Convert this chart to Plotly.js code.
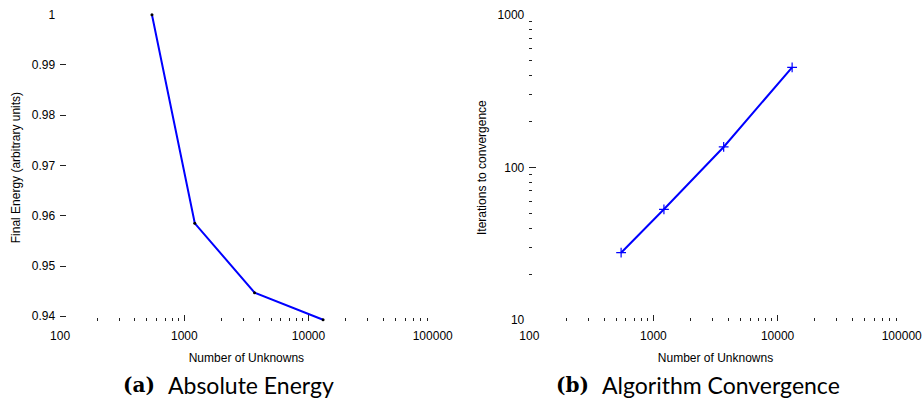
<!DOCTYPE html>
<html>
<head>
<meta charset="utf-8">
<script src="https://cdn.plot.ly/plotly-3.0.1.min.js"></script>
<style>html,body{margin:0;padding:0;background:#fff;}#chart{width:924px;height:405px;}</style>
</head>
<body>
<div id="chart"></div>
<script>
// ---- data ----
const unknowns = [549, 1215, 3680, 13100];
const finalEnergy = [1.0, 0.9585, 0.9447, 0.9393];
const iterations = [27.6, 53.1, 136, 452];

const xTickVals = [100, 1000, 10000, 100000];
const xTickText = ['100', '1000', '10000', '100000'];
const xMinorVals = [200,300,400,500,600,700,800,900,2000,3000,4000,5000,6000,7000,8000,9000,20000,30000,40000,50000,60000,70000,80000,90000];
const energyTickVals = [0.94, 0.95, 0.96, 0.97, 0.98, 0.99, 1.0];
const energyTickText = ['0.94', '0.95', '0.96', '0.97', '0.98', '0.99', '1'];
const iterTickVals = [10, 100, 1000];
const iterTickText = ['10', '100', '1000'];
const iterMinorVals = [20,30,40,50,60,70,80,90,200,300,400,500,600,700,800,900];

const xTitle = 'Number of Unknowns';
const yTitleA = 'Final Energy (arbitrary units)';
const yTitleB = 'Iterations to convergence';
const capLabelA = '(a)', capTextA = 'Absolute Energy';
const capLabelB = '(b)', capTextB = 'Algorithm Convergence';

// ---- styling ----
const tickFont = {family: 'Liberation Sans, Arial, sans-serif', size: 12, color: '#000'};
const titleFont = {family: 'Liberation Sans, Arial, sans-serif', size: 12, color: '#000'};
const tickColor = '#222';
const blue = '#0000ff';

const traces = [
  {x: unknowns, y: finalEnergy, xaxis: 'x', yaxis: 'y', type: 'scatter', mode: 'lines+markers',
   line: {color: blue, width: 2}, marker: {color: '#000', size: 3, symbol: 'circle'}, cliponaxis: false},
  {x: unknowns, y: iterations, xaxis: 'x2', yaxis: 'y2', type: 'scatter', mode: 'lines+markers',
   line: {color: blue, width: 2}, marker: {color: blue, size: 7, symbol: 'cross-thin', line: {color: blue, width: 1.2}}, cliponaxis: false}
];

const yDom = [1 - 320.5/405, 1 - 14.7/405];

function xAxis(domain, anchor) {
  return {
    type: 'log', domain: domain, anchor: anchor, range: [2, 5],
    tickmode: 'array', tickvals: xTickVals, ticktext: xTickText,
    ticks: 'inside', ticklen: 6, tickwidth: 1, tickcolor: tickColor,
    minor: {tickmode: 'array', tickvals: xMinorVals, ticks: 'inside', ticklen: 3, tickwidth: 1, tickcolor: tickColor, showgrid: false},
    showline: false, showgrid: false, zeroline: false,
    tickfont: tickFont, ticklabelstandoff: 6,
    title: {text: xTitle, font: titleFont, standoff: 12},
    fixedrange: true
  };
}

const capY = 1 - 385/405;

const layout = {
  width: 924, height: 405,
  margin: {l: 0, r: 0, t: 0, b: 0},
  paper_bgcolor: '#fff', plot_bgcolor: '#fff',
  showlegend: false,
  xaxis: xAxis([60.1/924, 432.7/924], 'y'),
  xaxis2: xAxis([529.3/924, 901.7/924], 'y2'),
  yaxis: {
    domain: yDom, anchor: 'x', range: [0.93916, 1.0],
    tickmode: 'array', tickvals: energyTickVals, ticktext: energyTickText,
    ticks: 'inside', ticklen: 6, tickwidth: 1, tickcolor: tickColor,
    showline: false, showgrid: false, zeroline: false,
    tickfont: tickFont, ticklabelstandoff: 4,
    title: {text: yTitleA, font: titleFont, standoff: 8}
  },
  yaxis2: {
    type: 'log', domain: yDom, anchor: 'x2', range: [0.9967, 3],
    tickmode: 'array', tickvals: iterTickVals, ticktext: iterTickText,
    ticks: 'inside', ticklen: 7, tickwidth: 1, tickcolor: tickColor,
    minor: {tickmode: 'array', tickvals: iterMinorVals, ticks: 'inside', ticklen: 3, tickwidth: 1, tickcolor: tickColor, showgrid: false},
    showline: false, showgrid: false, zeroline: false,
    tickfont: tickFont, ticklabelstandoff: 4,
    title: {text: yTitleB, font: titleFont, standoff: 8}
  },
  annotations: [
    {text: '<b>' + capLabelA + '</b>', xref: 'paper', yref: 'paper', x: 121/924, y: capY, xanchor: 'left', yanchor: 'middle', showarrow: false,
     font: {family: 'DejaVu Serif, serif', size: 20, color: '#000'}},
    {text: capTextA, xref: 'paper', yref: 'paper', x: 166/924, y: capY, xanchor: 'left', yanchor: 'middle', showarrow: false,
     font: {family: 'Lato, sans-serif', size: 23, color: '#000'}},
    {text: '<b>' + capLabelB + '</b>', xref: 'paper', yref: 'paper', x: 554/924, y: capY, xanchor: 'left', yanchor: 'middle', showarrow: false,
     font: {family: 'DejaVu Serif, serif', size: 20, color: '#000'}},
    {text: capTextB, xref: 'paper', yref: 'paper', x: 600/924, y: capY, xanchor: 'left', yanchor: 'middle', showarrow: false,
     font: {family: 'Lato, sans-serif', size: 23, color: '#000'}}
  ]
};

Plotly.newPlot('chart', traces, layout, {staticPlot: true, displayModeBar: false});
</script>
</body>
</html>
